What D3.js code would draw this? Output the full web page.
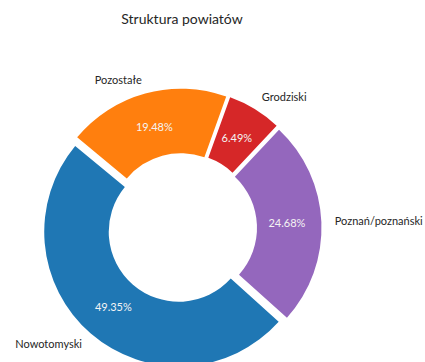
<!DOCTYPE html>
<html><head><meta charset="utf-8">
<script src="https://cdn.jsdelivr.net/npm/d3@7"></script>
<style>body{margin:0;background:#fff}svg{display:block}</style>
</head><body><div id="chart"></div>
<script>
const categories = ["Nowotomyski", "Pozostałe", "Grodziski", "Poznań/poznański"];
const counts = [38, 15, 5, 19];
const colors = ["#1f77b4", "#ff7f0e", "#d62728", "#9467bd"];
const title = "Struktura powiatów";

const W = 425, H = 362;
const cx = 182, cy = 228, R = 134.5, r = 70, explode = 5;
const startDeg = 132;
const FONT = "Lato, 'Open Sans', sans-serif";

const svg = d3.select("#chart").append("svg").attr("width", W).attr("height", H);
svg.append("rect").attr("width", W).attr("height", H).attr("fill", "#fff");

const total = d3.sum(counts);
const data = categories.map((c, i) => ({name: c, value: counts[i], color: colors[i]}));
const a0 = startDeg * Math.PI / 180;
const pie = d3.pie().sort(null).value(d => d.value).startAngle(a0).endAngle(a0 + 2 * Math.PI);
const arc = d3.arc().innerRadius(r).outerRadius(R);
const arcs = pie(data);

const g = svg.append("g").attr("transform", `translate(${cx},${cy})`);
arcs.forEach(a => {
  const mid = (a.startAngle + a.endAngle) / 2;
  const ox = explode * Math.sin(mid), oy = -explode * Math.cos(mid);
  const sg = g.append("g").attr("transform", `translate(${ox},${oy})`);
  sg.append("path").attr("d", arc(a)).attr("fill", a.data.color);
  const pr = 100;
  sg.append("text")
    .attr("x", pr * Math.sin(mid)).attr("y", -pr * Math.cos(mid))
    .attr("dy", "0.35em").attr("text-anchor", "middle")
    .attr("font-family", FONT).attr("font-size", 11).attr("fill", "#f4f4f4")
    .text((a.data.value / total * 100).toFixed(2) + "%");
  const lr = 1.1 * R;
  const lx = lr * Math.sin(mid);
  sg.append("text")
    .attr("x", lx).attr("y", -lr * Math.cos(mid))
    .attr("dy", "0.35em").attr("text-anchor", lx > 0 ? "start" : "end")
    .attr("font-family", FONT).attr("font-size", 11).attr("fill", "#262626")
    .text(a.data.name);
});

svg.append("text").attr("x", cx).attr("y", 24).attr("text-anchor", "middle")
  .attr("font-family", FONT).attr("font-size", 14).attr("fill", "#262626")
  .text(title);
</script></body></html>
